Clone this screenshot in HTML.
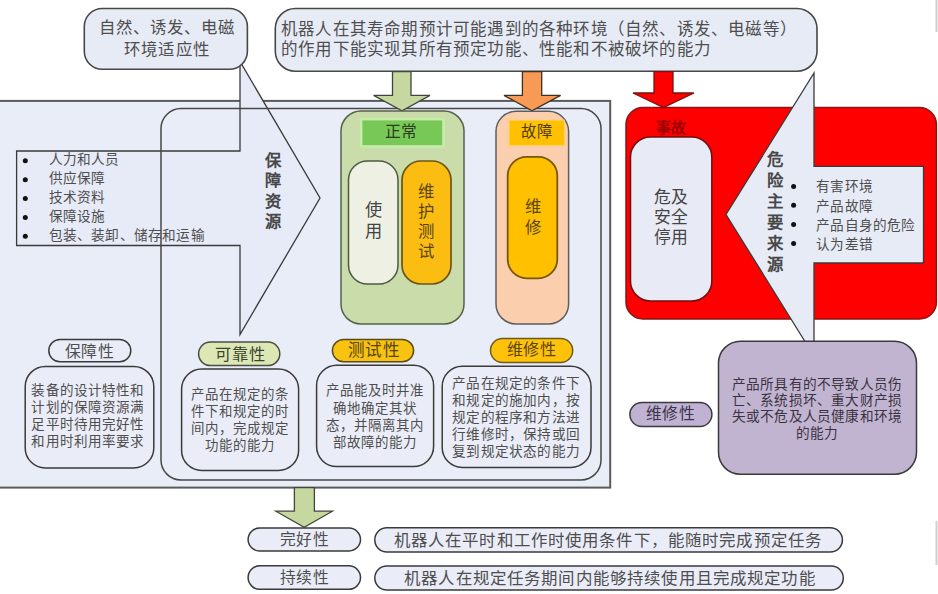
<!DOCTYPE html>
<html lang="zh-CN">
<head>
<meta charset="utf-8">
<style>
html,body{margin:0;padding:0;}
html{overflow:hidden;width:938px;height:594px;}
body{width:938px;height:594px;overflow:hidden;background:#ffffff;position:relative;font-family:"Liberation Serif",serif;color:#4e4e4e;}
svg{position:absolute;left:0;top:0;}
.t{position:absolute;white-space:nowrap;line-height:1;}
</style>
</head>
<body>
<svg width="938" height="594" viewBox="0 0 938 594">
  <rect x="-5" y="100.9" width="615.2" height="386.7" fill="#e9edf8" stroke="#5a5a5a" stroke-width="2"/>
  <polygon points="16.6,151 240,151 240,61.5 320,198 240,334.5 240,245.5 16.6,245.5" fill="#e7ebf7" stroke="#3a3a3a" stroke-width="1.3"/>
  <rect x="161" y="108.6" width="440" height="371.4" rx="20" fill="none" stroke="#474747" stroke-width="1.5"/>
  <rect x="626" y="107.6" width="310.4" height="211.4" rx="17" fill="#fe0000" stroke="#8a1414" stroke-width="1.5"/>
  <rect x="630.5" y="137" width="81.3" height="164" rx="20" fill="#e8eaf6" stroke="#6e1010" stroke-width="1.5"/>
  <polygon points="726,214.5 814,73 814,166.3 923.5,166.3 923.5,263 814,263 814,356" fill="#e7ebf6" stroke="#3a3a3a" stroke-width="1.3"/>
  <rect x="84.3" y="8.5" width="163.1" height="60.8" rx="18" fill="#e7ebf6" stroke="#474747" stroke-width="1.6"/>
  <rect x="275.3" y="8.5" width="541.7" height="62.7" rx="20" fill="#e7ebf6" stroke="#474747" stroke-width="1.6"/>
  <polygon points="392.5,71.6 411,71.6 411,95.4 430,95.4 402,110.7 373.6,95.4 392.5,95.4" fill="#c6d8a0" stroke="#40463a" stroke-width="1.3"/>
  <polygon points="522.4,71.6 541.7,71.6 541.7,95.4 560.6,95.4 532,110.7 504,95.4 522.4,95.4" fill="#f79a55" stroke="#3e3024" stroke-width="1.3"/>
  <polygon points="654,71.6 673,71.6 673,93 694,93 663.5,107.5 633,93 654,93" fill="#fe0000" stroke="#7a1010" stroke-width="1.3"/>
  <rect x="341" y="111" width="123" height="213" rx="20" fill="#cbdcab" stroke="#56604a" stroke-width="1.5"/>
  <rect x="361.2" y="119.2" width="82.2" height="27.2" fill="#78c858" stroke="#c6eeaa" stroke-width="2.4"/>
  <rect x="348.5" y="161" width="49.5" height="123" rx="19" fill="#edf0e2" stroke="#4e5844" stroke-width="1.5"/>
  <rect x="402" y="161" width="49" height="123" rx="19" fill="#fcbd12" stroke="#6a5418" stroke-width="1.7"/>
  <rect x="496" y="111.3" width="72.6" height="212.7" rx="20" fill="#fbcfae" stroke="#5e5e5e" stroke-width="1.5"/>
  <rect x="509.2" y="120.2" width="55.2" height="25.2" fill="#ffc000" stroke="#ffd055" stroke-width="1"/>
  <rect x="507.7" y="156.8" width="49.6" height="121.5" rx="19" fill="#ffc000" stroke="#765612" stroke-width="1.8"/>
  <rect x="48.8" y="339.4" width="82" height="22.4" rx="11.2" fill="#eaedf8" stroke="#3a3a3a" stroke-width="1.5"/>
  <rect x="198.6" y="342" width="81.2" height="23.6" rx="11.8" fill="#dce7b5" stroke="#4a4e40" stroke-width="1.5"/>
  <rect x="332.4" y="339.4" width="81.2" height="22.4" rx="11.2" fill="#f7c210" stroke="#5a4a1a" stroke-width="1.5"/>
  <rect x="490.5" y="338.6" width="82.2" height="23.9" rx="11.9" fill="#ffc20a" stroke="#6b5a20" stroke-width="1.5"/>
  <rect x="629.9" y="402.6" width="82" height="23.8" rx="11.9" fill="#c0b2d2" stroke="#3a3a3a" stroke-width="1.5"/>
  <rect x="25.2" y="366.5" width="128.6" height="101.4" rx="20" fill="#eaedf8" stroke="#3a3a3a" stroke-width="1.5"/>
  <rect x="181.6" y="369.1" width="117" height="101.3" rx="20" fill="#eaedf8" stroke="#3a3a3a" stroke-width="1.5"/>
  <rect x="316.6" y="365.3" width="117" height="101.3" rx="20" fill="#eaedf8" stroke="#3a3a3a" stroke-width="1.5"/>
  <rect x="442.2" y="366.3" width="148.8" height="101.1" rx="20" fill="#eaedf8" stroke="#3a3a3a" stroke-width="1.5"/>
  <rect x="718.5" y="341.2" width="198" height="133.1" rx="22" fill="#c1b4d0" stroke="#3a3a3a" stroke-width="1.5"/>
  <polygon points="294.4,487.6 314.4,487.6 314.4,511.2 332.4,511.2 304.2,527.2 275.9,511.2 294.4,511.2" fill="#c6d8a0" stroke="#40463a" stroke-width="1.3"/>
  <rect x="248.1" y="528.1" width="112.4" height="22.8" rx="11.4" fill="#eaedf8" stroke="#3a3a3a" stroke-width="1.5"/>
  <rect x="248.1" y="565.8" width="112.4" height="23.5" rx="11.7" fill="#eaedf8" stroke="#3a3a3a" stroke-width="1.5"/>
  <rect x="374.8" y="527.7" width="467.6" height="24.3" rx="12.1" fill="#eaedf8" stroke="#3a3a3a" stroke-width="1.5"/>
  <rect x="374.8" y="566" width="468.5" height="24" rx="12" fill="#eaedf8" stroke="#3a3a3a" stroke-width="1.5"/>
  <rect x="935.5" y="0" width="2" height="32" fill="#d0d0d0"/>
  <rect x="935.5" y="521" width="2" height="44" fill="#d0d0d0"/>
  <g fill="#111">
    <circle cx="25.3" cy="160.8" r="2.5"/><circle cx="25.3" cy="179.8" r="2.5"/><circle cx="25.3" cy="198.6" r="2.5"/><circle cx="25.3" cy="217.4" r="2.5"/><circle cx="25.3" cy="236.2" r="2.5"/>
    <circle cx="793.6" cy="186.6" r="2.5"/><circle cx="793.6" cy="205.2" r="2.5"/><circle cx="793.6" cy="224.5" r="2.5"/><circle cx="793.6" cy="243.4" r="2.5"/>
  </g>
</svg>

<div class="t" style="top:20.46px;font-size:16.42px;letter-spacing:1.1px;left:-134.1px;width:600px;text-align:center;padding-left:1.1px;">自然、诱发、电磁</div>
<div class="t" style="top:41.66px;font-size:16.42px;letter-spacing:1.1px;left:-134.1px;width:600px;text-align:center;padding-left:1.1px;">环境适应性</div>
<div class="t" style="top:21.67px;font-size:16.51px;letter-spacing:0.2px;left:281.0px;">机器人在其寿命期预计可能遇到的各种环境（自然、诱发、电磁等）</div>
<div class="t" style="top:41.97px;font-size:16.51px;letter-spacing:0.2px;left:281.0px;">的作用下能实现其所有预定功能、性能和不被破坏的能力</div>
<div class="t" style="top:152.84px;font-size:13.63px;letter-spacing:0.2px;left:48.6px;">人力和人员</div>
<div class="t" style="top:171.84px;font-size:13.63px;letter-spacing:0.2px;left:48.6px;">供应保障</div>
<div class="t" style="top:190.84px;font-size:13.63px;letter-spacing:0.2px;left:48.6px;">技术资料</div>
<div class="t" style="top:209.84px;font-size:13.63px;letter-spacing:0.2px;left:48.6px;">保障设施</div>
<div class="t" style="top:228.84px;font-size:13.63px;letter-spacing:0.2px;left:48.6px;">包装、装卸、储存和运输</div>
<div class="t" style="top:152.76px;left:253.2px;width:40px;text-align:center;font-size:16.3px;color:#484848;font-weight:bold;">保</div>
<div class="t" style="top:173.16px;left:253.2px;width:40px;text-align:center;font-size:16.3px;color:#484848;font-weight:bold;">障</div>
<div class="t" style="top:193.56px;left:253.2px;width:40px;text-align:center;font-size:16.3px;color:#484848;font-weight:bold;">资</div>
<div class="t" style="top:213.96px;left:253.2px;width:40px;text-align:center;font-size:16.3px;color:#484848;font-weight:bold;">源</div>
<div class="t" style="top:124.16px;font-size:15.84px;letter-spacing:0.5px;color:#2c3a1c;left:100.8px;width:600px;text-align:center;padding-left:0.5px;">正常</div>
<div class="t" style="top:202.17px;left:353.2px;width:40px;text-align:center;font-size:17.2px;color:#444;">使</div>
<div class="t" style="top:222.67px;left:353.2px;width:40px;text-align:center;font-size:17.2px;color:#444;">用</div>
<div class="t" style="top:184.46px;left:405.9px;width:40px;text-align:center;font-size:16.4px;color:#5a4510;">维</div>
<div class="t" style="top:204.16px;left:405.9px;width:40px;text-align:center;font-size:16.4px;color:#5a4510;">护</div>
<div class="t" style="top:223.86px;left:405.9px;width:40px;text-align:center;font-size:16.4px;color:#5a4510;">测</div>
<div class="t" style="top:243.56px;left:405.9px;width:40px;text-align:center;font-size:16.4px;color:#5a4510;">试</div>
<div class="t" style="top:124.05px;font-size:15.36px;letter-spacing:1.0px;color:#4e3c10;left:236.2px;width:600px;text-align:center;padding-left:1.0px;">故障</div>
<div class="t" style="top:199.46px;left:513.2px;width:40px;text-align:center;font-size:16.4px;color:#5a4510;">维</div>
<div class="t" style="top:220.46px;left:513.2px;width:40px;text-align:center;font-size:16.4px;color:#5a4510;">修</div>
<div class="t" style="top:120.75px;font-size:14.88px;letter-spacing:0.5px;color:#9c0000;font-weight:bold;left:370.6px;width:600px;text-align:center;padding-left:0.5px;">事故</div>
<div class="t" style="top:190.07px;font-size:16.8px;letter-spacing:-0.4px;color:#444;left:370.8px;width:600px;text-align:center;padding-left:-0.4px;">危及</div>
<div class="t" style="top:209.87px;font-size:16.8px;letter-spacing:-0.4px;color:#444;left:370.8px;width:600px;text-align:center;padding-left:-0.4px;">安全</div>
<div class="t" style="top:229.67px;font-size:16.8px;letter-spacing:-0.4px;color:#444;left:370.8px;width:600px;text-align:center;padding-left:-0.4px;">停用</div>
<div class="t" style="top:152.16px;left:754.9px;width:40px;text-align:center;font-size:16.4px;color:#484848;font-weight:bold;">危</div>
<div class="t" style="top:173.06px;left:754.9px;width:40px;text-align:center;font-size:16.4px;color:#484848;font-weight:bold;">险</div>
<div class="t" style="top:193.96px;left:754.9px;width:40px;text-align:center;font-size:16.4px;color:#484848;font-weight:bold;">主</div>
<div class="t" style="top:214.86px;left:754.9px;width:40px;text-align:center;font-size:16.4px;color:#484848;font-weight:bold;">要</div>
<div class="t" style="top:235.76px;left:754.9px;width:40px;text-align:center;font-size:16.4px;color:#484848;font-weight:bold;">来</div>
<div class="t" style="top:256.66px;left:754.9px;width:40px;text-align:center;font-size:16.4px;color:#484848;font-weight:bold;">源</div>
<div class="t" style="top:180.34px;font-size:13.63px;letter-spacing:0.2px;left:816.3px;">有害环境</div>
<div class="t" style="top:199.64px;font-size:13.63px;letter-spacing:0.2px;left:816.3px;">产品故障</div>
<div class="t" style="top:218.94px;font-size:13.63px;letter-spacing:0.2px;left:816.3px;">产品自身的危险</div>
<div class="t" style="top:238.24px;font-size:13.63px;letter-spacing:0.2px;left:816.3px;">认为差错</div>
<div class="t" style="top:344.26px;font-size:15.84px;letter-spacing:0.5px;left:-211.0px;width:600px;text-align:center;padding-left:0.5px;">保障性</div>
<div class="t" style="top:346.96px;font-size:16.22px;letter-spacing:0.9px;color:#3a4530;left:-60.8px;width:600px;text-align:center;padding-left:0.9px;">可靠性</div>
<div class="t" style="top:343.17px;font-size:16.61px;letter-spacing:0.3px;color:#5a4510;left:73.6px;width:600px;text-align:center;padding-left:0.3px;">测试性</div>
<div class="t" style="top:341.76px;font-size:16.13px;letter-spacing:0.8px;color:#5a4510;left:231.0px;width:600px;text-align:center;padding-left:0.8px;">维修性</div>
<div class="t" style="top:405.76px;font-size:15.84px;letter-spacing:0.5px;color:#3c3448;left:370.1px;width:600px;text-align:center;padding-left:0.5px;">维修性</div>
<div class="t" style="top:531.86px;font-size:15.74px;letter-spacing:0.4px;left:4.0px;width:600px;text-align:center;padding-left:0.4px;">完好性</div>
<div class="t" style="top:570.26px;font-size:15.74px;letter-spacing:0.4px;left:4.0px;width:600px;text-align:center;padding-left:0.4px;">持续性</div>
<div class="t" style="top:532.96px;font-size:16.45px;letter-spacing:1.14px;left:306.8px;width:600px;text-align:center;padding-left:1.14px;">机器人在平时和工作时使用条件下，能随时完成预定任务</div>
<div class="t" style="top:571.36px;font-size:16.46px;letter-spacing:1.15px;left:308.8px;width:600px;text-align:center;padding-left:1.15px;">机器人在规定任务期间内能够持续使用且完成规定功能</div>
<div class="t" style="top:383.84px;font-size:13.54px;letter-spacing:0.1px;left:-212.25px;width:600px;text-align:center;padding-left:0.1px;">装备的设计特性和</div>
<div class="t" style="top:400.91px;font-size:13.54px;letter-spacing:0.1px;left:-212.25px;width:600px;text-align:center;padding-left:0.1px;">计划的保障资源满</div>
<div class="t" style="top:417.98px;font-size:13.54px;letter-spacing:0.1px;left:-212.25px;width:600px;text-align:center;padding-left:0.1px;">足平时待用完好性</div>
<div class="t" style="top:435.05px;font-size:13.54px;letter-spacing:0.1px;left:-212.25px;width:600px;text-align:center;padding-left:0.1px;">和用时利用率要求</div>
<div class="t" style="top:388.13px;font-size:13.44px;letter-spacing:1.0px;left:-61.0px;width:600px;text-align:center;padding-left:1.0px;">产品在规定的条</div>
<div class="t" style="top:405.03px;font-size:13.44px;letter-spacing:1.0px;left:-61.0px;width:600px;text-align:center;padding-left:1.0px;">件下和规定的时</div>
<div class="t" style="top:421.93px;font-size:13.44px;letter-spacing:1.0px;left:-61.0px;width:600px;text-align:center;padding-left:1.0px;">间内，完成规定</div>
<div class="t" style="top:438.83px;font-size:13.44px;letter-spacing:1.0px;left:-61.0px;width:600px;text-align:center;padding-left:1.0px;">功能的能力</div>
<div class="t" style="top:384.33px;font-size:13.44px;letter-spacing:1.0px;left:74.0px;width:600px;text-align:center;padding-left:1.0px;">产品能及时并准</div>
<div class="t" style="top:401.6px;font-size:13.44px;letter-spacing:1.0px;left:74.0px;width:600px;text-align:center;padding-left:1.0px;">确地确定其状</div>
<div class="t" style="top:418.87px;font-size:13.44px;letter-spacing:1.0px;left:74.0px;width:600px;text-align:center;padding-left:1.0px;">态，并隔离其内</div>
<div class="t" style="top:436.14px;font-size:13.44px;letter-spacing:1.0px;left:74.0px;width:600px;text-align:center;padding-left:1.0px;">部故障的能力</div>
<div class="t" style="top:376.84px;font-size:13.63px;letter-spacing:0.2px;left:215.9px;width:600px;text-align:center;padding-left:0.2px;">产品在规定的条件下</div>
<div class="t" style="top:393.94px;font-size:13.63px;letter-spacing:0.2px;left:215.9px;width:600px;text-align:center;padding-left:0.2px;">和规定的施加内，按</div>
<div class="t" style="top:411.04px;font-size:13.63px;letter-spacing:0.2px;left:215.9px;width:600px;text-align:center;padding-left:0.2px;">规定的程序和方法进</div>
<div class="t" style="top:428.14px;font-size:13.63px;letter-spacing:0.2px;left:215.9px;width:600px;text-align:center;padding-left:0.2px;">行维修时，保持或回</div>
<div class="t" style="top:445.24px;font-size:13.63px;letter-spacing:0.2px;left:215.9px;width:600px;text-align:center;padding-left:0.2px;">复到规定状态的能力</div>
<div class="t" style="top:377.84px;font-size:13.63px;letter-spacing:0.2px;color:#3a3242;left:516.9px;width:600px;text-align:center;padding-left:0.2px;">产品所具有的不导致人员伤</div>
<div class="t" style="top:394.14px;font-size:13.63px;letter-spacing:0.2px;color:#3a3242;left:516.9px;width:600px;text-align:center;padding-left:0.2px;">亡、系统损坏、重大财产损</div>
<div class="t" style="top:410.44px;font-size:13.63px;letter-spacing:0.2px;color:#3a3242;left:516.9px;width:600px;text-align:center;padding-left:0.2px;">失或不危及人员健康和环境</div>
<div class="t" style="top:426.74px;font-size:13.63px;letter-spacing:0.2px;color:#3a3242;left:516.9px;width:600px;text-align:center;padding-left:0.2px;">的能力</div>
</body>
</html>
